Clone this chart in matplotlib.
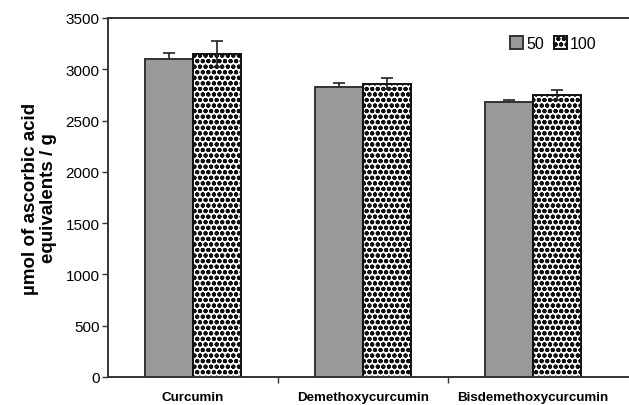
import matplotlib
matplotlib.use("Agg")
import matplotlib.pyplot as plt
import numpy as np

categories = ["Curcumin", "Demethoxycurcumin", "Bisdemethoxycurcumin"]
series_names = ["50", "100"]
vals_50 = [3100, 2830, 2680]
err_50 = [60, 35, 25]
vals_100 = [3150, 2860, 2750]
err_100 = [125, 55, 50]

plt.rcParams['font.family'] = ['Liberation Sans', 'DejaVu Sans']
plt.rcParams['hatch.linewidth'] = 1.4
plt.rcParams['hatch.color'] = 'black'

fig = plt.figure(figsize=(6.29, 4.06), dpi=100)
ax = fig.add_axes([108/629, 1-378/406, 1-108/629, (378-19)/406])

x = np.arange(len(categories))
w = 0.28
ax.errorbar(x - w/2, vals_50, yerr=[np.zeros(3), err_50], fmt='none',
            ecolor='#222222', elinewidth=1.2, capsize=4, capthick=1.2, zorder=1)
ax.bar(x - w/2, vals_50, w, color='#999999', edgecolor='#333333', linewidth=1.4,
       label=series_names[0], zorder=2)
ax.bar(x + w/2, vals_100, w, color='white', edgecolor='#111111', linewidth=1.4,
       hatch='ooo', label=series_names[1], zorder=2)
ax.errorbar(x + w/2, vals_100, yerr=err_100, fmt='none',
            ecolor='#222222', elinewidth=1.2, capsize=4, capthick=1.2, zorder=3)

ax.set_xlim(-0.5, -0.5 + (629-108)/170)
ax.set_ylim(0, 3500)
ax.set_yticks(np.arange(0, 3501, 500))
ax.tick_params(axis='y', direction='out', length=4, width=1, labelsize=11, pad=2, color='#333333')
ax.set_xticks([0.5, 1.5], minor=False)
ax.set_xticklabels([])
ax.set_xticks(x, minor=True)
ax.set_xticklabels(categories, minor=True, fontweight='bold', fontsize=9.6)
ax.tick_params(axis='x', which='minor', length=0, pad=10)
ax.tick_params(axis='x', which='major', direction='out', length=4, width=1, color='#333333')

for s in ['left', 'bottom', 'top']:
    ax.spines[s].set_linewidth(1.4)
    ax.spines[s].set_color('#333333')
ax.spines['right'].set_visible(False)

ax.set_ylabel("µmol of ascorbic acid\nequivalents / g", fontsize=13.5, fontweight='bold',
              labelpad=6, linespacing=1.1)

ax.legend(loc='upper right', bbox_to_anchor=(0.965, 0.99), ncol=2, frameon=False, fontsize=11.5,
          handlelength=0.8, handleheight=0.8, handletextpad=0.2, columnspacing=0.6)

fig.savefig("out.png", dpi=100)
